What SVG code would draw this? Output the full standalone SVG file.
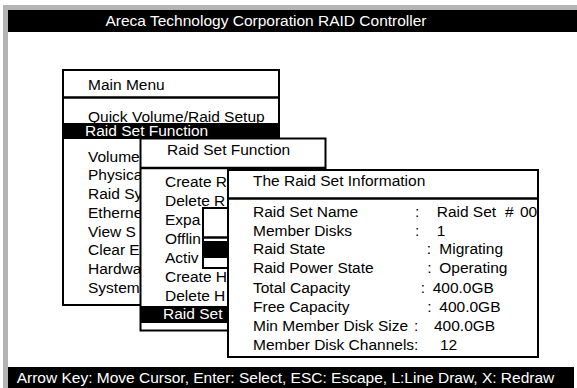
<svg xmlns="http://www.w3.org/2000/svg" width="577" height="388" viewBox="0 0 577 388">
  <style>
    text { font-family: "Liberation Sans", Arial, sans-serif; font-size: 15.5px; fill: #000; }
    .inv { fill: #fff; }
    .box { fill: #fff; stroke: #000; stroke-width: 2; }
    .rule { stroke: #000; stroke-width: 2.5; fill: none; }
    .bar { fill: #000; }
  </style>

  <!-- screen frame -->
  <g id="frame">
    <rect x="0" y="0" width="577" height="388" fill="#fff"/>
    <rect x="3" y="5" width="574" height="383" fill="#b4b4b4"/>
    <rect x="8" y="10" width="569" height="378" fill="#fff"/>
  </g>

  <!-- title bar -->
  <g id="header">
    <rect class="bar" x="8" y="10" width="569" height="22"/>
    <text class="inv" x="266" y="26" text-anchor="middle" font-size="14.2">Areca Technology Corporation RAID Controller</text>
  </g>

  <!-- main menu -->
  <g id="main-menu">
    <rect class="box" x="63" y="70" width="216" height="235"/>
    <text x="88" y="90">Main Menu</text>
    <line class="rule" x1="63" y1="97.5" x2="279" y2="97.5"/>
    <text x="88" y="121.5">Quick Volume/Raid Setup</text>
    <rect class="bar" x="62" y="123" width="218" height="16"/>
    <text class="inv" x="85" y="136">Raid Set Function</text>
    <text x="88" y="161.5">Volume</text>
    <text x="88" y="180">Physica</text>
    <text x="88" y="199">Raid Sy</text>
    <text x="88" y="217.5">Etherne</text>
    <text x="88" y="236.5">View S</text>
    <text x="88" y="255">Clear E</text>
    <text x="88" y="274">Hardwa</text>
    <text x="88" y="292.5">System</text>
  </g>

  <!-- raid set function submenu -->
  <g id="raid-set-menu">
    <rect class="box" x="140.5" y="138.5" width="185" height="192"/>
    <text x="167" y="154.5">Raid Set Function</text>
    <line class="rule" x1="140.5" y1="168" x2="325.5" y2="168"/>
    <text x="165" y="186.5">Create R</text>
    <text x="165" y="205.5">Delete R</text>
    <text x="165" y="224.5">Expa</text>
    <text x="165" y="243.5">Offlin</text>
    <text x="165" y="262.5">Activ</text>
    <text x="165" y="281.5">Create H</text>
    <text x="165" y="300.5">Delete H</text>
    <rect class="bar" x="141" y="306" width="100" height="17"/>
    <text class="inv" x="163" y="319">Raid Set</text>
  </g>

  <!-- small dialog behind the information panel -->
  <g id="sub-dialog">
    <rect class="box" x="203" y="208" width="60" height="60"/>
    <line class="rule" x1="203" y1="237.5" x2="263" y2="237.5"/>
    <rect class="bar" x="204" y="241" width="58" height="17"/>
  </g>

  <!-- raid set information panel -->
  <g id="info-panel">
    <rect class="box" x="228" y="170" width="310" height="187"/>
    <text x="253" y="185.5">The Raid Set Information</text>
    <line class="rule" x1="228" y1="198.5" x2="538" y2="198.5"/>

    <text x="253" y="216.7">Raid Set Name</text>
    <text x="415" y="216.7">:</text>
    <text x="436.7" y="216.7">Raid Set</text>
    <text x="505" y="216.7">#</text>
    <text x="520" y="216.7">00</text>

    <text x="253" y="235.7">Member Disks</text>
    <text x="415" y="235.7">:</text>
    <text x="436.7" y="235.7">1</text>

    <text x="253" y="254.3">Raid State</text>
    <text x="426.7" y="254.3">:</text>
    <text x="439.3" y="254.3">Migrating</text>

    <text x="253" y="273.3">Raid Power State</text>
    <text x="427.3" y="273.3">:</text>
    <text x="439.3" y="273.3">Operating</text>

    <text x="253" y="293.3">Total Capacity</text>
    <text x="420.7" y="293.3">:</text>
    <text x="432.7" y="293.3">400.0GB</text>

    <text x="253" y="311.7">Free Capacity</text>
    <text x="427.3" y="311.7">:</text>
    <text x="439.3" y="311.7">400.0GB</text>

    <text x="253" y="330.7">Min Member Disk Size</text>
    <text x="414" y="330.7">:</text>
    <text x="434" y="330.7">400.0GB</text>

    <text x="253" y="350">Member Disk Channels</text>
    <text x="414" y="350">:</text>
    <text x="440" y="350">12</text>
  </g>

  <!-- key help bar -->
  <g id="status-bar">
    <rect class="bar" x="8" y="367" width="566" height="21"/>
    <text class="inv" x="16.7" y="382.5" font-size="16">Arrow Key: Move Cursor, Enter: Select, ESC: Escape, L:Line Draw, X: Redraw</text>
  </g>
</svg>
